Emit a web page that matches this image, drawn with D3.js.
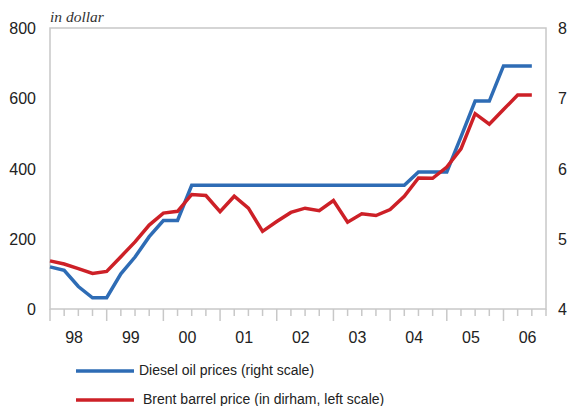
<!DOCTYPE html>
<html lang="en">
<head>
    <meta charset="UTF-8">
    <title>Diesel oil and Brent barrel prices</title>
    <style>
        body { margin: 0; background: #fff; }
        .tick-label { font-family: "Liberation Sans", Arial, sans-serif; font-size: 16px; fill: #222; }
        .legend-label { font-family: "Liberation Sans", Arial, sans-serif; font-size: 14px; fill: #222; }
        .unit { font-family: "Liberation Serif", serif; font-style: italic; font-size: 15.5px; fill: #333; }
    </style>
</head>
<body>
    <svg id="chart" width="567" height="406"></svg>

    <script src="https://d3js.org/d3.v7.min.js"></script>
    <script>
        // quarterly points, 98 Q1 .. 06 Q3
        const years = ["98", "99", "00", "01", "02", "03", "04", "05", "06"];
        const leftTicks = [0, 200, 400, 600, 800];
        const rightTicks = [4, 5, 6, 7, 8];

        // Brent barrel price (in dirham, left scale)
        const brent = [137, 128, 115, 101, 107, 149, 191, 239, 273, 278,
                       326, 323, 277, 321, 287, 221, 249, 275, 287, 280,
                       309, 247, 271, 266, 283, 321, 373, 372, 404, 456,
                       556, 526, 568, 609, 609];

        // Diesel oil prices (right scale)
        const diesel = [4.60, 4.55, 4.32, 4.16, 4.16, 4.50, 4.74, 5.03, 5.26, 5.26,
                        5.76, 5.76, 5.76, 5.76, 5.76, 5.76, 5.76, 5.76, 5.76, 5.76,
                        5.76, 5.76, 5.76, 5.76, 5.76, 5.76, 5.95, 5.95, 5.95, 6.45,
                        6.96, 6.96, 7.46, 7.46, 7.46];

        const nSteps = 35;
        const plotLeft = 50, plotRight = 546, plotTop = 28, plotBottom = 309;
        const grey = "#c8c8c8";

        const svg = d3.select("#chart");

        const x = d3.scaleLinear().domain([0, nSteps]).range([plotLeft, plotRight]);
        const yL = d3.scaleLinear().domain([0, 800]).range([plotBottom, plotTop]);
        const yR = d3.scaleLinear().domain([4, 8]).range([plotBottom, plotTop]);

        // frame
        svg.append("rect")
            .attr("x", plotLeft).attr("y", plotTop)
            .attr("width", plotRight - plotLeft).attr("height", plotBottom - plotTop)
            .attr("fill", "none")
            .attr("stroke", grey)
            .attr("stroke-width", 1.5);

        // quarter ticks, longer at year boundaries
        svg.selectAll(".qtick")
            .data(d3.range(0, nSteps + 1))
            .enter().append("line")
            .attr("class", "qtick")
            .attr("x1", d => x(d)).attr("x2", d => x(d))
            .attr("y1", plotBottom)
            .attr("y2", d => d % 4 === 0 ? plotBottom + 12 : plotBottom + 7)
            .attr("stroke", grey)
            .attr("stroke-width", 1.5);

        svg.selectAll(".year")
            .data(years)
            .enter().append("text")
            .attr("class", "tick-label")
            .attr("x", (d, i) => x(i * 4 + 1.7))
            .attr("y", 343)
            .attr("text-anchor", "middle")
            .text(d => d);

        svg.selectAll(".ltick")
            .data(leftTicks)
            .enter().append("text")
            .attr("class", "tick-label")
            .attr("x", 36)
            .attr("y", d => yL(d) + 6)
            .attr("text-anchor", "end")
            .text(d => d);

        svg.selectAll(".rtick")
            .data(rightTicks)
            .enter().append("text")
            .attr("class", "tick-label")
            .attr("x", 558)
            .attr("y", d => yR(d) + 6)
            .text(d => d);

        svg.append("text")
            .attr("class", "unit")
            .attr("x", 50)
            .attr("y", 22)
            .text("in dollar");

        const lineL = d3.line().x((d, i) => x(i)).y(d => yL(d));
        const lineR = d3.line().x((d, i) => x(i)).y(d => yR(d));

        svg.append("path")
            .datum(diesel)
            .attr("d", lineR)
            .attr("fill", "none")
            .attr("stroke", "#2e6cb5")
            .attr("stroke-width", 3.5);

        svg.append("path")
            .datum(brent)
            .attr("d", lineL)
            .attr("fill", "none")
            .attr("stroke", "#cd2027")
            .attr("stroke-width", 3.5);

        // legend
        const legend = [
            { label: "Diesel oil prices (right scale)", color: "#2e6cb5", y: 371, tx: 139 },
            { label: "Brent barrel price (in dirham, left scale)", color: "#cd2027", y: 400, tx: 143 }
        ];

        legend.forEach(d => {
            svg.append("line")
                .attr("x1", 76).attr("x2", 134)
                .attr("y1", d.y).attr("y2", d.y)
                .attr("stroke", d.color)
                .attr("stroke-width", 3.5);
            svg.append("text")
                .attr("class", "legend-label")
                .attr("x", d.tx)
                .attr("y", d.y + 4)
                .text(d.label);
        });
    </script>
</body>
</html>
